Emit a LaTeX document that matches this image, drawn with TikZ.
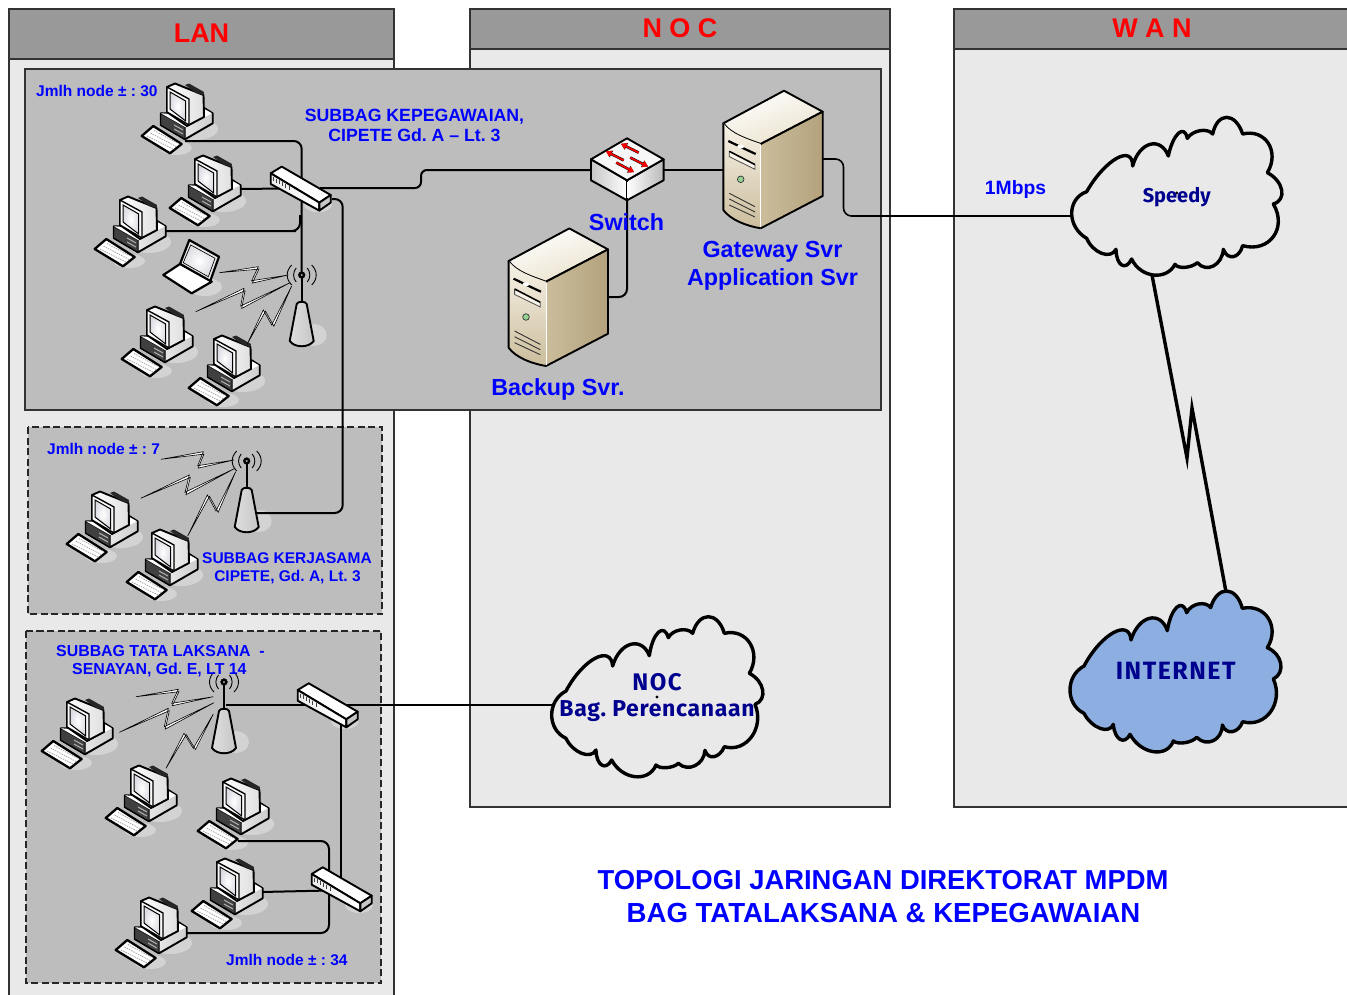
\documentclass[tikz,border=0pt]{standalone}
\usepackage{fontspec}
\setmainfont{Liberation Sans}
\newfontfamily\comicf{Fira Sans}
\newfontfamily\comicb[LetterSpace=3]{Fira Sans}
\newfontfamily\comicw[LetterSpace=6]{Fira Sans}
\usetikzlibrary{calc,arrows.meta}
\definecolor{panelbg}{HTML}{E9E9E9}
\definecolor{headbg}{HTML}{999999}
\definecolor{greybg}{HTML}{BDBDBD}
\definecolor{shadowc}{HTML}{D3D3D3}
\definecolor{txtblue}{HTML}{0000FF}
\definecolor{cloudtxt}{HTML}{00008F}
\definecolor{cloudblue}{HTML}{8CAEE0}
\definecolor{srvlight}{HTML}{F8F3E8}
\definecolor{srvmid}{HTML}{EAE1CC}
\definecolor{srvdark}{HTML}{B3A27C}
\definecolor{srvlow}{HTML}{CBBD9C}
\newcommand\fsz[1]{\fontsize{#1}{#1}\selectfont\bfseries\frenchspacing}
\newcommand\bp[3]{.. controls ($(#1)!.5!(#3)!1.333!(#2)+.3*(#1)-.3*(#3)$) and ($(#1)!.5!(#3)!1.333!(#2)-.3*(#1)+.3*(#3)$) .. (#3)}
\newcommand\boltz[5]{\filldraw[boltline] (#1) -- (#2) -- (#3) -- (#4) -- ($(#3)+(#5)$) -- ($(#2)+(#5)$) -- cycle;}
\tikzset{
 panel/.style={draw=black!80,line width=1.1pt,fill=panelbg},
 head/.style={draw=black!80,line width=1.1pt,fill=headbg},
 greybox/.style={draw=black!80,line width=1.1pt,fill=greybg},
 dashbox/.style={draw=black!85,line width=1.1pt,fill=greybg,dash pattern=on 7pt off 3.5pt},
 conn/.style={draw=black,line width=2pt,rounded corners=8pt},
 thinconn/.style={draw=black,line width=1.6pt,rounded corners=8pt},
 boltline/.style={draw=black,fill=white,line width=.6pt,line join=miter},
 cloudline/.style={draw=black,line width=3.4pt,line join=round},
 blue txt/.style={text=txtblue,align=center,inner sep=0pt},
 red txt/.style={text=red,align=center,inner sep=0pt},
 cloud txt/.style={text=cloudtxt,align=center,inner sep=0pt},
 obj/.style={draw=black,line width=1.9pt,line join=round},
 pcshadow/.pic={
  \fill[shadowc] (16,9) ellipse (22 and 11);
  \fill[shadowc] (-4,28) ellipse (16 and 7);
 },
 hubshadow/.pic={\fill[shadowc] (18,16) ellipse (14 and 8);},
 antshadow/.pic={\fill[shadowc] (12,60) ellipse (13 and 11);},
 pcpic/.pic={
  % keyboard
  \filldraw[obj,fill=white,line width=2.3pt] (-38.3,16) -- (-26.7,6) -- (1.7,24) -- (-10,33.3) -- cycle;
  \draw[gray!70,line width=.8pt,dash pattern=on 1.5pt off 1pt] (-33,16) -- (-6,29.5);
  \draw[gray!70,line width=.8pt,dash pattern=on 1.5pt off 1pt] (-29.5,13) -- (-3,27);
  \draw[gray!70,line width=.8pt,dash pattern=on 1.5pt off 1pt] (-26,10.5) -- (-1,24);
  % base
  \filldraw[obj,left color=white,right color=gray!40] (-19.3,-6.7) -- (-19.3,5) -- (5,19.3) -- (32.7,3.3) -- (32.7,-6.7) -- (21,-14) -- (7,-7) -- cycle;
  \filldraw[obj,fill=black!75,line width=1pt] (-19.3,-6.7) -- (-19.3,5) -- (5,19.3) -- (5,7) -- cycle;
  \draw[gray!60,line width=1pt] (-6,5) -- (3,10) (-6,9) -- (3,14);
  \fill[white] (-19,-6.7) -- (5,7) -- (32,-6.7) -- (21,-13) -- (8,-5) -- cycle;
  % monitor
  \filldraw[obj,left color=white,right color=gray!25] (-13,-33) -- (-5,-36.5) -- (23.5,-25) -- (24,-3) -- (7,6) -- (-13,-8) -- cycle;
  \fill[black!85] (5,-35) -- (9,-36.5) -- (24,-28) -- (23.5,-25) -- (16,-27) -- cycle;
  \filldraw[obj,fill=gray!5,line width=1.4pt] (-13,-33) -- (9,-21) -- (9,5) -- (-13,-8) -- cycle;
  \filldraw[draw=black,line width=1pt,inner color=white,outer color=blue!12!gray!25] (-10,-28) -- (5.7,-19) -- (5.7,1) -- (-10,-11) -- cycle;
 },
 hubpic/.pic={
  \filldraw[obj,fill=white] (-29.3,-15) -- (-18.3,-21.7) -- (30.7,6.7) -- (19.3,14.3) -- cycle;
  \filldraw[obj,left color=gray!15,right color=white] (-29.3,-15) -- (-29.3,-4.3) -- (19.3,22.3) -- (19.3,14.3) -- cycle;
  \filldraw[obj,fill=gray!45] (19.3,14.3) -- (30.7,6.7) -- (30.7,14.3) -- (19.3,22.3) -- cycle;
  \foreach \k in {0,1,2,3,4,5}
   \draw[black!75,line width=1pt] ({-27+3.2*\k},{-11.5+1.8*\k}) -- ++(0,4);
 },
 antpic/.pic={
  \draw[black,line width=2.4pt] (0,0) -- (0,28);
  \filldraw[obj,left color=gray!25,middle color=white,right color=gray!45] (-5,29) -- (-12,66) .. controls (-7,73) and (7,73) .. (12,66) -- (5,29) .. controls (4,26) and (-4,26) .. (-5,29) -- cycle;
  \filldraw[black] (0,0) circle (3.4);
  \fill[gray!70] (0,0) circle (1.1);
  \draw[black,line width=.9pt] (-5.5,-7) .. controls (-9,-3) and (-9,3) .. (-5.5,7);
  \draw[black,line width=.9pt] (5.5,-7) .. controls (9,-3) and (9,3) .. (5.5,7);
  \draw[black,line width=.9pt] (-10,-10) .. controls (-16,-4) and (-16,4) .. (-10,10);
  \draw[black,line width=.9pt] (10,-10) .. controls (16,-4) and (16,4) .. (10,10);
 },
 srvpic/.pic={
  \filldraw[obj,top color=white,bottom color=srvmid,shading angle=20] (-37.4,-20.7) -- (23.3,-53.3) -- (62,-32.3) -- (0,0) .. controls (-14,-5) and (-30,-10) .. (-37.4,-20.7) -- cycle;
  \shade[left color=srvlow,middle color=srvmid,right color=srvdark] (0,0) -- (62,-32.3) -- (62,52) -- (0,84.3) -- cycle;
  \draw[obj] (0,0) -- (62,-32.3) -- (62,52) -- (0,84.3);
  \shade[top color=srvlight,bottom color=srvlow] (-37.4,-20.7) .. controls (-30,-10) and (-14,-5) .. (0,0) -- (0,84.3) .. controls (-14,82) and (-30,76) .. (-37.4,66) -- cycle;
  \draw[obj] (-37.4,-20.7) -- (-37.4,66) .. controls (-30,76) and (-14,82) .. (0,84.3);
  \draw[white,line width=1pt] (0,1) -- (0,83);
  \draw[black,line width=2.2pt] (-32.4,-3) .. controls (-24,1) and (-14,6) .. (-5,10);
  \fill[white] (-20,2.5) ellipse (3.5 and 2);
  \filldraw[draw=black!70,line width=.8pt,fill=srvlight] (-31.4,7.7) -- (-5.7,21) -- (-5.7,25.3) -- (-31.4,12.7) -- cycle;
  \draw[black,line width=1.4pt] (-31.4,7.2) -- (-5.7,20.5);
  \filldraw[draw=black!80,line width=.7pt,fill=green!40!gray!60] (-20,35.3) circle (3.3);
  \draw[black!80,line width=.9pt] (-31.4,49.3) -- (-5.7,62.7) (-31.4,55) -- (-5.7,68) (-31.4,61) -- (-5.7,73);
 },
 switchpic/.pic={
  \filldraw[obj,left color=gray!45,right color=white] (-36,0) -- (0,21) -- (0,41) -- (-36,21) -- cycle;
  \filldraw[obj,left color=white,right color=gray!55] (0,21) -- (36.6,0) -- (36.6,21) -- (0,41) -- cycle;
  \filldraw[obj,fill=gray!6] (0,-21) -- (36.6,0) -- (0,21) -- (-36,0) -- cycle;
  \draw[white,line width=.8pt] (0,23) -- (0,39);
  \foreach \ax/\ay/\bx/\by in {11.6/-6.7/-6/-15.5,-3.3/1/-21/-8,3.3/-1.7/21/7.2,-10.7/3.3/7/12.8}{
   \draw[black,line width=2.6pt,-{Triangle[length=6pt,width=7pt]}] (\ax,\ay) -- (\bx,\by);
   \draw[red,line width=1.7pt,-{Triangle[length=5.5pt,width=6.5pt]}] (\ax,\ay) -- (\bx,\by);
  }
 },
}
\begin{document}
\begin{tikzpicture}[x=1pt,y=-1pt]
\clip (0,0) rectangle (1347,994);
\fill[white] (0,0) rectangle (1347,994);
% panels
\path[panel] (9,9) rectangle (394,1010);
\path[head] (9,9) rectangle (394,59);
\path[panel] (470,9) rectangle (890,807);
\path[head] (470,9) rectangle (890,49);
\path[panel] (954,9) rectangle (1370,807);
\path[head] (954,9) rectangle (1370,49);
\path[greybox] (25,69) rectangle (881,410);
\path[dashbox] (28,427) rectangle (382,614);
\path[dashbox] (26,631) rectangle (381,983);
\node[red txt,font=\fsz{27}] (lanT) at (201.5,33) {LAN};
\node[red txt,font=\fsz{27}] (nocT) at (680,28) {N O C};
\node[red txt,font=\fsz{27}] (wanT) at (1152,28) {W A N};
% anchor points
\coordinate (hubA) at (300,188.3);
\coordinate (hubB) at (327,705);
\coordinate (hubC) at (341,889);
\coordinate (antA) at (301.7,275);
\coordinate (antB) at (246.7,461);
\coordinate (antC) at (224,682);
\coordinate (swA) at (627,159.3);
\coordinate (srvG) at (760.7,144);
\coordinate (srvB) at (546,281.7);
\coordinate (c1p) at (185,141);
\coordinate (c2p) at (240,189);
\coordinate (c3p) at (165,231);
\coordinate (hubAr) at (320,188);
\coordinate (hubAs) at (332,199);
\coordinate (antBr) at (256,513);
\coordinate (swL) at (591,170);
\coordinate (swR) at (663,170);
\coordinate (swD) at (627,199);
\coordinate (srvGl) at (723,170);
\coordinate (srvGr) at (823,159);
\coordinate (srvBr) at (608,297);
\coordinate (spdL) at (1073,216);
\coordinate (spdB) at (1152,275);
\coordinate (inetT) at (1226,592);
\coordinate (nocL) at (552,705);
\coordinate (antCr) at (226,705);
\coordinate (cCp) at (238,841);
\coordinate (cDp) at (261,892);
\coordinate (cEp) at (186,933);
% shadows
\foreach \p in {(180,120),(208,192),(133,233),(160,343),(227,372),(105,528),(165,566),(80,735),(144,802),(236,815),(230,895),(154,934)}
 \pic at \p {pcshadow};
\pic at (hubA) {hubshadow};
\pic at (hubB) {hubshadow};
\pic at (hubC) {hubshadow};
\pic at (antA) {antshadow};
\pic at (antB) {antshadow};
\pic at (antC) {antshadow};
\fill[shadowc] (205,287) ellipse (17 and 9);
% connectors
\draw[conn] (c1p) -| (antA);
\draw[conn] (c3p) -- (288,231) -- (300,231) -- (300,215);
\draw[conn,rounded corners=0pt] (c2p) -- (hubA);
\draw[conn,rounded corners=6pt] (hubAr) -- (421,188) -- (421,170) -- (swL);
\draw[conn] (hubAs) -- (342.7,199) -- (342.7,513) -- (antBr);
\draw[conn,rounded corners=0pt] (swR) -- (srvGl);
\draw[conn] (swD) -- (627,297) -- (srvBr);
\draw[thinconn] (srvGr) -- (843.5,159) -- (843.5,216) -- (spdL);
\draw[thinconn,rounded corners=0pt] (antCr) -- (hubB) -- (nocL);
\draw[conn,rounded corners=0pt] (hubB) -- (341,705) -- (hubC);
\draw[conn] (cCp) -- (329,841) -- (329,885);
\draw[conn,rounded corners=0pt] (cDp) -- (329,890.5);
\draw[conn] (cEp) -- (329,933) -- (329,885);
\draw[black,line width=3.4pt,line join=miter] (spdB) -- (1187,458) -- (1192,408) -- (inetT);
% computers
\foreach \p in {(180,120),(208,192),(133,233),(160,343),(227,372),(105,528),(165,566),(80,735),(144,802),(236,815),(230,895),(154,934)}
 \pic at \p {pcpic};
% laptop
\filldraw[obj,fill=gray!20,line width=2.2pt] (189.3,240) -- (219,256.7) -- (210,281.7) -- (180,264) -- cycle;
\filldraw[draw=black,line width=.6pt,inner color=white,outer color=blue!10!gray!25] (190.7,245) -- (215,258.3) -- (208.3,276.7) -- (183.3,262.7) -- cycle;
\filldraw[obj,fill=white,line width=2.2pt] (163.3,275) -- (180,264) -- (211.7,281.7) -- (191.7,293.3) -- cycle;
% hubs, antennas, switch, servers
\pic at (hubA) {hubpic};
\pic at (hubB) {hubpic};
\pic at (hubC) {hubpic};
\pic at (antA) {antpic};
\pic at (antB) {antpic};
\pic at (antC) {antpic};
\pic at (swA) {switchpic};
\pic at (srvG) {srvpic};
\pic at (srvB) {srvpic};
% radio links
\boltz{219.3,272.7}{258.3,266.7}{251.7,280.7}{288.3,275}{.6,2.4}
\boltz{195.7,311.7}{244,288.3}{240.7,306}{290,282.7}{1,2.4}
\boltz{246.7,345}{263.3,310}{271.7,325}{291.7,286}{2.2,1.2}
\boltz{161,459.3}{203.3,451.7}{197.7,465.7}{234,460}{.6,2.4}
\boltz{140.7,498.3}{189.3,475}{185,492.3}{235,468.3}{1,2.4}
\boltz{187.7,536}{207.3,495}{216,511}{235.7,471.7}{2.2,1.2}
\boltz{136,696.7}{178.3,689.3}{171.7,703.3}{213.3,696.7}{.6,2.4}
\boltz{119.3,732.3}{168.3,708.3}{164.3,726.7}{214,702.7}{1,2.4}
\boltz{166,768.3}{184,733.3}{193.3,748.3}{213.3,714}{2.2,1.2}
% clouds
\begin{scope}[shift={(1060,110)},x=.33333pt,y=-.33333pt]
\path[cloudline,fill=panelbg] (80,245) \bp{80,245}{170,145}{218,168} \bp{218,168}{270,103}{325,138} \bp{325,138}{355,70}{382,85} \bp{382,85}{420,62}{458,72} \bp{458,72}{500,22}{548,72} \bp{548,72}{625,100}{622,188} \bp{622,188}{665,240}{640,282} \bp{640,282}{640,380}{548,407} \bp{548,407}{520,440}{490,418} \bp{490,418}{460,468}{412,458} \bp{412,458}{375,472}{345,463} \bp{345,463}{280,495}{215,447} \bp{215,447}{185,465}{168,418} \bp{168,418}{125,430}{80,385} \bp{80,385}{35,310}{80,245} -- cycle;
\end{scope}
\begin{scope}[shift={(540,605)},x=.33333pt,y=-.33333pt]
\path[cloudline,fill=panelbg] (78,258) \bp{78,258}{165,160}{218,183} \bp{218,183}{272,118}{328,152} \bp{328,152}{355,82}{385,98} \bp{385,98}{420,75}{458,85} \bp{458,85}{505,35}{553,85} \bp{553,85}{630,115}{628,205} \bp{628,205}{668,255}{645,298} \bp{645,298}{635,395}{553,425} \bp{553,425}{522,455}{495,436} \bp{495,436}{465,482}{415,475} \bp{415,475}{380,488}{348,480} \bp{348,480}{285,515}{215,465} \bp{215,465}{185,480}{168,435} \bp{168,435}{125,445}{78,400} \bp{78,400}{35,330}{78,258} -- cycle;
\end{scope}
\begin{scope}[shift={(1060,580)},x=.33333pt,y=-.33333pt]
\path[cloudline,fill=cloudblue] (72,258) \bp{72,258}{160,158}{213,180} \bp{213,180}{268,115}{322,152} \bp{322,152}{350,82}{380,98} \bp{380,98}{415,72}{452,83} \bp{452,83}{500,33}{547,85} \bp{547,85}{625,115}{622,203} \bp{622,203}{662,250}{640,297} \bp{640,297}{632,395}{548,425} \bp{548,425}{517,455}{487,435} \bp{487,435}{460,482}{410,472} \bp{410,472}{375,488}{340,483} \bp{340,483}{280,515}{210,463} \bp{210,463}{180,478}{160,433} \bp{160,433}{120,445}{72,400} \bp{72,400}{30,330}{72,258} -- cycle;
\end{scope}
\fill[black] (1176.7,193) circle (1.6);
\fill[black] (657,697) circle (1.6);
\node[cloud txt,font=\comicf\fsz{20}] (spd) at (1176.7,197) {Speedy};
\node[cloud txt,font=\comicw\fsz{24}] (nocA) at (657,682) {NOC};
\node[cloud txt,font=\comicb\fsz{23}] (nocB) at (657,711) {Bag. Perencanaan};
\node[cloud txt,font=\comicw\fsz{25}] (inet) at (1175.7,670.7) {INTERNET};
% labels
\node[blue txt,font=\fsz{15.5},anchor=west] (n30) at (36,91) {Jmlh node ± : 30};
\node[blue txt,font=\fsz{17.7}] (keg) at (414.5,125.5) {SUBBAG KEPEGAWAIAN,\\[3pt]CIPETE Gd. A -- Lt. 3};
\node[blue txt,font=\fsz{23.3}] (swT) at (626.5,222) {Switch};
\node[blue txt,font=\fsz{23.3}] (gwT) at (772.5,251.5) {Gateway Svr};
\node[blue txt,font=\fsz{23.3}] (apT) at (772.5,279.5) {Application Svr};
\node[blue txt,font=\fsz{23.3}] (bkT) at (558,389) {Backup Svr.};
\node[blue txt,font=\fsz{19.3}] (mb) at (1015.5,190) {1Mbps};
\node[blue txt,font=\fsz{15.5},anchor=west] (n7) at (47,449) {Jmlh node ± : 7};
\node[blue txt,font=\fsz{15.5}] (ksA) at (287,558) {SUBBAG KERJASAMA};
\node[blue txt,font=\fsz{15.5}] (ksB) at (287.5,577) {CIPETE, Gd. A, Lt. 3};
\node[blue txt,font=\fsz{15.9},anchor=west] (tlA) at (56,651) {SUBBAG TATA LAKSANA\ \ -};
\node[blue txt,font=\fsz{15.9},anchor=west] (tlB) at (72,670) {SENAYAN, Gd. E, LT 14};
\node[blue txt,font=\fsz{15.5},anchor=west] (n34) at (226,960) {Jmlh node ± : 34};
\node[blue txt,font=\fsz{27.4}] (ttA) at (883,880) {TOPOLOGI JARINGAN DIREKTORAT MPDM};
\node[blue txt,font=\fsz{27.6}] (ttB) at (883.5,913) {BAG TATALAKSANA \& KEPEGAWAIAN};
\end{tikzpicture}
\end{document}
